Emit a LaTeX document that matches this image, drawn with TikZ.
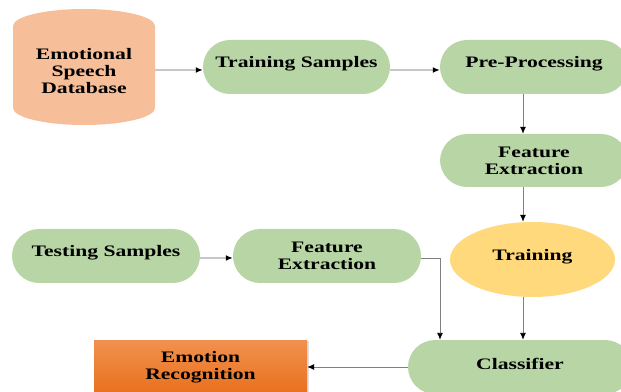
\documentclass[tikz,border=0pt]{standalone}
\usepackage{fontspec}
\setmainfont{Liberation Serif}[FakeStretch=1.35]
\usetikzlibrary{arrows.meta,shapes.geometric,shadows}
\definecolor{boxgreen}{HTML}{B8D6A5}
\definecolor{dbpeach}{HTML}{F6BE99}
\definecolor{trainyellow}{HTML}{FFD97B}
\definecolor{ertop}{HTML}{F1914F}
\definecolor{erbot}{HTML}{E8701C}
\definecolor{lightline}{HTML}{C8C8C8}
\definecolor{darkline}{HTML}{808080}
\newcommand\liftup[1]{\raisebox{3pt}[\height][\depth]{#1}}
\tikzset{
  x=1pt, y=1pt,
  lbl/.style={font=\bfseries\fontsize{16}{17}\selectfont, align=center, text=black},
  pill/.style={lbl, rectangle, rounded corners=27pt, fill=boxgreen, minimum width=188pt, minimum height=54pt, inner sep=0pt},
  ovalbox/.style={lbl, ellipse, fill=trainyellow, minimum width=165pt, minimum height=75pt, inner sep=0pt},
  outbox/.style={lbl, rectangle, top color=ertop, bottom color=erbot, minimum width=213pt, minimum height=54pt, inner sep=0pt,
    drop shadow={shadow xshift=2pt, shadow yshift=-1pt, opacity=0.25}},
  arrtip/.style={-{Latex[length=7pt,width=6pt,color=black]}},
  lightarr/.style={arrtip, draw=lightline, line width=1.4pt},
  darkarr/.style={arrtip, draw=darkline, line width=0.9pt}
}
\begin{document}
\begin{tikzpicture}
\useasboundingbox (0,0) rectangle (621,391);
\begin{scope}
\clip (0,0) rectangle (621,391);
% database cylinder
\fill[dbpeach] (13,365) arc[start angle=180,end angle=0,x radius=71,y radius=17]
  -- (155,283) arc[start angle=0,end angle=-180,x radius=71,y radius=17] -- cycle;
\node[lbl, minimum width=142pt, minimum height=116pt, inner sep=0pt] (db) at (84,320) {Emotional\\Speech\\Database};
\node[pill, minimum width=187pt] (ts) at (296.5,324) {\liftup{Training Samples}};
\node[pill] (pp) at (534,324) {\liftup{Pre-Processing}};
\node[pill, minimum height=53pt] (fe1) at (534,230.5) {Feature\\Extraction};
\node[ovalbox] (train) at (532.5,131.5) {\liftup{Training}};
\node[pill] (ts2) at (106,135) {\liftup{Testing Samples}};
\node[pill] (fe2) at (327,135) {Feature\\Extraction};
\node[pill, minimum width=224pt] (cls) at (520,24) {\liftup{Classifier}};
\node[outbox] (er) at (200.5,24) {Emotion\\Recognition};
\end{scope}
\coordinate (vx) at (523,0);
\coordinate (vx2) at (440,0);
\draw[lightarr] ([yshift=-3pt]ts.west -| db.east) -- ([yshift=-3pt]ts.west);
\draw[lightarr] ([yshift=-3pt]ts.east) -- ([yshift=-3pt]pp.west);
\draw[darkarr] (pp.south -| vx) -- (fe1.north -| vx);
\draw[darkarr] (fe1.south -| vx) -- (train.north -| vx);
\draw[darkarr] (train.south -| vx) -- (cls.north -| vx);
\draw[lightarr] ([yshift=-2pt]ts2.east) -- ([yshift=-2pt]fe2.west);
\draw[darkarr] ([yshift=-2pt]fe2.east) -| (cls.north -| vx2);
\draw[darkarr] (cls.west) -- (er.east);
\end{tikzpicture}
\end{document}
